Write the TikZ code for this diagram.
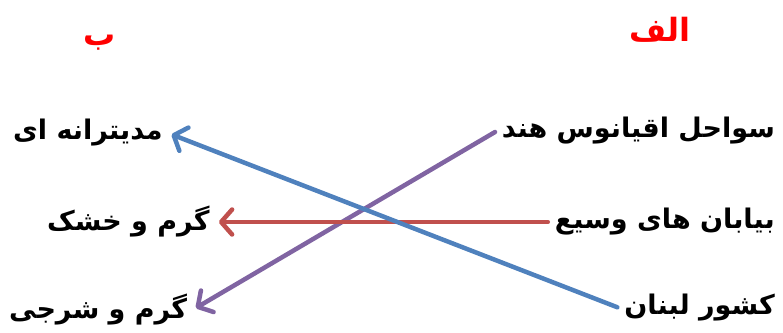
\documentclass[tikz,border=0pt]{standalone}
\usepackage{fontspec}
\newfontfamily\arabicfont[Script=Arabic]{DejaVu Sans}
\TeXXeTstate=1
\usetikzlibrary{arrows.meta}
\definecolor{arrblue}{HTML}{4F81BD}
\definecolor{arrred}{HTML}{C0504D}
\definecolor{arrpurple}{HTML}{8064A2}

\begin{document}
\begin{tikzpicture}[
  x=1pt, y=-1pt,
  item/.style={inner sep=5pt, font=\arabicfont\bfseries\fontsize{27}{32}\selectfont},
  head/.style={inner sep=0pt, text=red, font=\arabicfont\bfseries\fontsize{32}{38}\selectfont},
  link/.style={line width=4.5pt, line cap=round, shorten <=2pt, shorten >=4pt,
               -{Straight Barb[length=11pt, width=25pt, line cap=round, line join=round]}}]
  \useasboundingbox (0,0) rectangle (783,332);
  % column headers
  \node[head] (alef) at (660,30) {\beginR الف\endR};
  \node[head] (be) at (100,43) {\beginR ب\endR};
  % right column
  \node[item, anchor=east] (r1) at (780,131) {\beginR سواحل اقیانوس هند\endR};
  \node[item, anchor=east] (r2) at (780,222) {\beginR بیابان های وسیع\endR};
  \node[item, anchor=east] (r3) at (780,308) {\beginR کشور لبنان\endR};
  % left column
  \node[item, anchor=west] (l1) at (8,133) {\beginR مدیترانه ای\endR};
  \node[item, anchor=west] (l2) at (42,222) {\beginR گرم و خشک\endR};
  \node[item, anchor=west] (l3) at (4,310) {\beginR گرم و شرجی\endR};
  % connectors
  \draw[link, arrpurple] (r1.west) -- (l3.east);
  \draw[link, arrred] (r2.west) -- (l2.east);
  \draw[link, arrblue] (r3.west) -- (l1.east);
\end{tikzpicture}
\end{document}
